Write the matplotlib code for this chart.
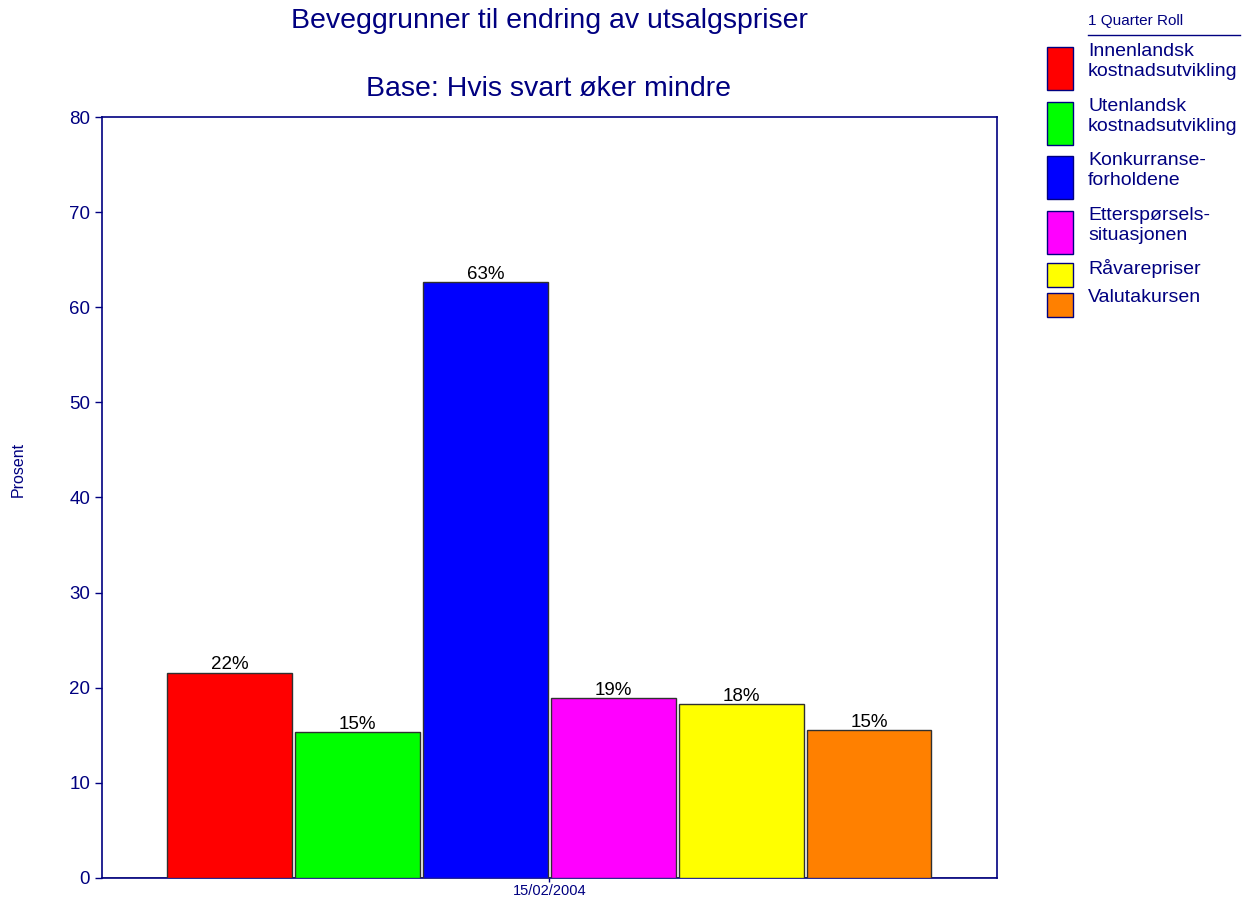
import matplotlib.pyplot as plt
from matplotlib.patches import Rectangle
from matplotlib.lines import Line2D

plt.rcParams['font.family'] = ['Liberation Sans', 'DejaVu Sans']

NAVY = '#000080'

categories = ['Innenlandsk\nkostnadsutvikling', 'Utenlandsk\nkostnadsutvikling',
              'Konkurranse-\nforholdene', 'Etterspørsels-\nsituasjonen',
              'Råvarepriser', 'Valutakursen']
values = [21.6, 15.3, 62.7, 18.9, 18.3, 15.6]
labels = ['22%', '15%', '63%', '19%', '18%', '15%']
colors = ['#ff0000', '#00ff00', '#0000ff', '#ff00ff', '#ffff00', '#ff8000']
date_label = '15/02/2004'

fig = plt.figure(figsize=(12.42, 8.98), dpi=100)
ax = fig.add_axes([0.0821, 0.0223, 0.7206, 0.8474])

offsets = [i - (len(values) - 1) / 2 for i in range(len(values))]
bars = ax.bar(offsets, values, width=0.975, color=colors,
              edgecolor='#303030', linewidth=1, zorder=3)
for b, lab in zip(bars, labels):
    ax.text(b.get_x() + b.get_width() / 2, b.get_height() - 0.1, lab,
            ha='center', va='bottom', fontsize=13.5, color='black')

ax.axhline(0, color='#808080', lw=2, zorder=2)
ax.set_xlim(-3.5, 3.5)
ax.set_ylim(0, 80)
ax.set_yticks(range(0, 81, 10))
ax.set_xticks([0])
ax.set_xticklabels([date_label], fontsize=10.5, color=NAVY)
ax.tick_params(axis='y', colors=NAVY, labelsize=13.5, length=5, width=1)
ax.tick_params(axis='x', colors=NAVY, length=3, width=1, pad=1)
for s in ax.spines.values():
    s.set_color(NAVY)
    s.set_linewidth(1.2)
fig.text(0.0145, 0.477, 'Prosent', rotation=90, ha='center', va='center',
         fontsize=11.5, color=NAVY)

fig.text(0.442, 0.977, 'Beveggrunner til endring av utsalgspriser',
         ha='center', va='center', fontsize=20.5, color=NAVY)
fig.text(0.442, 0.901, 'Base: Hvis svart øker mindre',
         ha='center', va='center', fontsize=20.5, color=NAVY)

# legend drawn by hand to match the original layout
W, H = 1242, 898
fig.text(1088 / W, 1 - 21 / H, '1 Quarter Roll', ha='left', va='center',
         fontsize=11, color=NAVY)
fig.add_artist(Line2D([1088 / W, 1240 / W], [1 - 35 / H, 1 - 35 / H],
                      color=NAVY, lw=1, transform=fig.transFigure))
boxes = [(47, 90), (102, 145), (156, 199), (211, 254), (263, 287), (293, 317)]
for (y0, y1), c, name in zip(boxes, colors, categories):
    fig.add_artist(Rectangle((1047 / W, 1 - y1 / H), 26 / W, (y1 - y0) / H,
                             facecolor=c, edgecolor=NAVY, lw=1,
                             transform=fig.transFigure))
    fig.text(1088 / W, 1 - (y0 - 4) / H, name, ha='left', va='top',
             fontsize=14, color=NAVY, linespacing=1.25)

fig.savefig('out.png', dpi=100)
